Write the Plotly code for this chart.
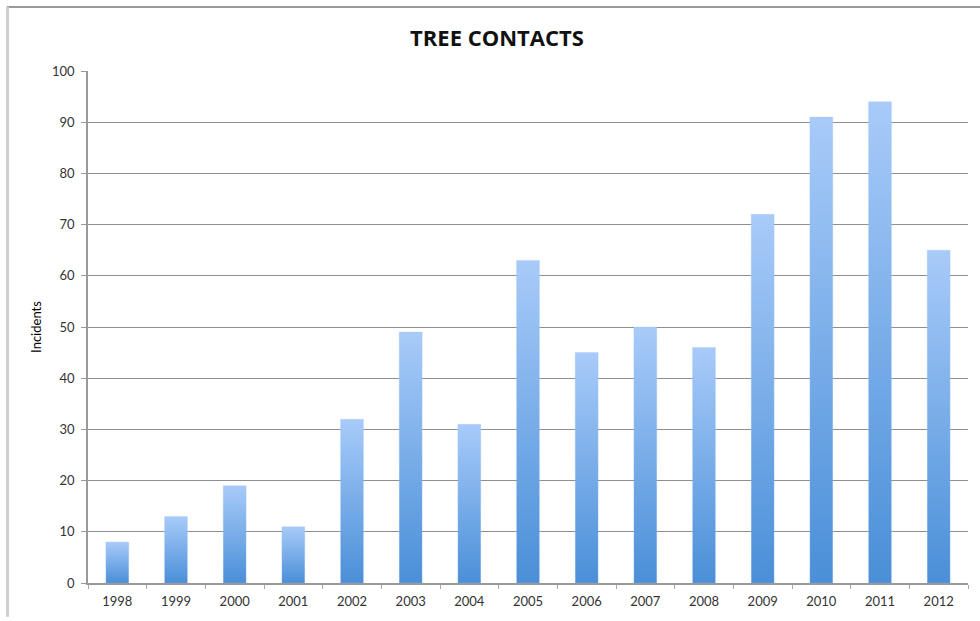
import plotly.graph_objects as go

years = ["1998", "1999", "2000", "2001", "2002", "2003", "2004", "2005",
         "2006", "2007", "2008", "2009", "2010", "2011", "2012"]
incidents = [8, 13, 19, 11, 32, 49, 31, 63, 45, 50, 46, 72, 91, 94, 65]
y_ticks = [0, 10, 20, 30, 40, 50, 60, 70, 80, 90, 100]

W, H = 980, 621
L, R, T, B = 88, 12, 71, 34
PW, PH = W - L - R, H - T - B

BAR_W = 0.39
fig = go.Figure()
for i, v in enumerate(incidents):
    fig.add_trace(go.Scatter(
        x=[i - BAR_W / 2, i + BAR_W / 2, i + BAR_W / 2, i - BAR_W / 2, i - BAR_W / 2],
        y=[0, 0, v, v, 0],
        mode="lines", fill="toself",
        line=dict(width=0.5, color="rgba(160,195,240,0.6)"),
        fillgradient=dict(type="vertical",
                          colorscale=[[0, "#4a8fd8"], [1, "#a8cbf9"]]),
        hoverinfo="text", hovertext=f"{years[i]}: {v}",
        showlegend=False,
    ))

fig.update_layout(
    width=W, height=H,
    margin=dict(l=L, r=R, t=T, b=B),
    paper_bgcolor="white", plot_bgcolor="white",
    font=dict(family="Lato, Open Sans, sans-serif", color="#222", size=13),
    title=dict(text="<b>TREE CONTACTS</b>", x=497 / W, xanchor="center",
               y=1 - 38 / H, yanchor="middle",
               font=dict(size=22, family="Open Sans, Lato, sans-serif", color="#111")),
    xaxis=dict(
        range=[-0.5, 14.5], tickmode="array",
        tickvals=list(range(len(years))), ticktext=years,
        ticks="", showgrid=False, zeroline=False,
        showline=True, linecolor="#999", linewidth=1.5,
        tickfont=dict(size=13, color="#333"),
        ticklabelstandoff=6,
        minor=dict(tickmode="array",
                   tickvals=[k - 0.5 for k in range(len(years) + 1)],
                   ticks="outside", ticklen=4, tickcolor="#aaa", showgrid=False),
        fixedrange=True,
    ),
    yaxis=dict(
        range=[0, 100], tickmode="array", tickvals=y_ticks,
        ticks="outside", ticklen=5, tickcolor="#999",
        showgrid=True, gridcolor="#8f8f8f", gridwidth=1,
        zeroline=False, showline=True, linecolor="#999", linewidth=1.5,
        tickfont=dict(size=13, color="#333"),
        ticklabelstandoff=4,
        title=dict(text="Incidents", font=dict(size=13, color="#000"), standoff=7),
        fixedrange=True,
    ),
    shapes=[
        dict(type="line", xref="paper", yref="paper",
             x0=(7 - L) / PW, x1=(W - L) / PW,
             y0=(T + PH - 6.5) / PH, y1=(T + PH - 6.5) / PH,
             line=dict(color="#9a9a9a", width=2)),
        dict(type="line", xref="paper", yref="paper",
             x0=(7.5 - L) / PW, x1=(7.5 - L) / PW,
             y0=(T + PH - 6.5) / PH, y1=(T + PH - H) / PH,
             line=dict(color="#cfcfcf", width=3)),
    ],
)

fig.write_html("out.html",
               config={"displayModeBar": False},
               post_script="document.body.style.margin='0';document.body.style.overflow='hidden';")
